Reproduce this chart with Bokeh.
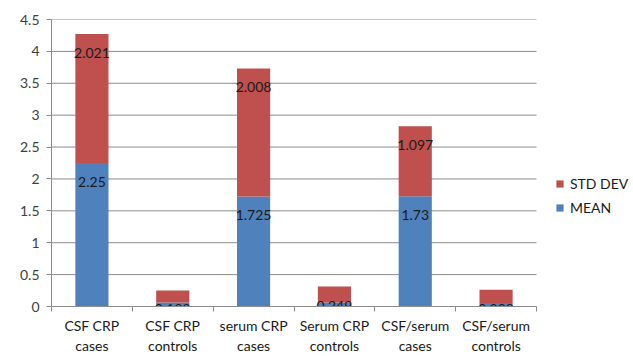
from bokeh.plotting import figure
from bokeh.models import (ColumnDataSource, Legend, LegendItem, LinearAxis,
                          FixedTicker, SingleIntervalTicker, Range1d)
from bokeh.embed import file_html
from bokeh.resources import INLINE
from bokeh.core.properties import value

categories = ["CSF CRP cases", "CSF CRP controls", "serum CRP cases",
              "Serum CRP controls", "CSF/serum cases", "CSF/serum controls"]
label_line1 = ["CSF CRP", "CSF CRP", "serum CRP", "Serum CRP", "CSF/serum", "CSF/serum"]
label_line2 = ["cases", "controls", "cases", "controls", "cases", "controls"]
mean = [2.25, 0.064, 1.725, 0.064, 1.73, 0.0535]
std_dev = [2.021, 0.188, 2.008, 0.249, 1.097, 0.208]
y_max = 4.5
y_step = 0.5

FONT = "Lato"
BLUE = "#4F81BD"
RED = "#C0504D"
GRID = "#8c8c8c"

n = len(categories)
centers = [i + 0.5 for i in range(n)]          # category slots on the x scale
bounds = list(range(n + 1))                     # slot boundaries (tick marks)
grid_y = [i * y_step for i in range(int(round(y_max / y_step)) + 1)]

src = ColumnDataSource(dict(
    x=centers,
    cat=categories,
    MEAN=mean,
    STD=std_dev,
    top=[m + s for m, s in zip(mean, std_dev)],
    mean_txt=[str(v) for v in mean],
    std_txt=[str(v) for v in std_dev],
))

p = figure(x_range=Range1d(0, 7.2), y_range=Range1d(0, y_max), width=633, height=356,
           output_backend="svg", toolbar_location=None, x_axis_location=None,
           min_border_left=51, min_border_right=0, min_border_top=19, min_border_bottom=50)
p.outline_line_color = None
p.background_fill_color = "white"
p.border_fill_color = "white"
p.xgrid.grid_line_color = None
p.ygrid.grid_line_color = None

# horizontal gridlines limited to the category area
p.segment(x0=0, x1=n, y0=grid_y, y1=grid_y, line_color=GRID, line_width=1)

r = p.vbar_stack(["MEAN", "STD"], x="x", width=0.41, color=[BLUE, RED], source=src,
                 line_color=None)

# value labels
p.text(x="x", y="MEAN", text="mean_txt", source=src, y_offset=19,
       text_align="center", text_baseline="middle", text_font=value(FONT),
       text_font_size="14px", text_color="#1a1a1a")
p.text(x="x", y="top", text="std_txt", source=src, y_offset=19,
       text_align="center", text_baseline="middle", text_font=value(FONT),
       text_font_size="14px", text_color="#1a1a1a")

# y axis
ya = p.yaxis[0]
ya.ticker = SingleIntervalTicker(interval=y_step)
ya.major_label_overrides = {0: "0", 1: "1", 2: "2", 3: "3", 4: "4"}
ya.axis_line_color = GRID
ya.major_tick_line_color = GRID
ya.major_tick_out = 5
ya.major_tick_in = 0
ya.minor_tick_line_color = None
ya.major_label_text_font = FONT
ya.major_label_text_font_size = "14px"
ya.major_label_text_color = "#404040"
ya.major_label_standoff = 7

# x axis line with tick marks at slot boundaries
ta = LinearAxis(ticker=FixedTicker(ticks=bounds), bounds=(0, n))
ta.axis_line_color = GRID
ta.major_tick_line_color = GRID
ta.major_tick_out = 5
ta.major_tick_in = 0
ta.minor_tick_line_color = None
ta.major_label_text_font_size = "1px"
ta.major_label_text_color = None
ta.major_label_standoff = 0
p.add_layout(ta, "below")

# two lines of category labels
for lines, standoff in ((label_line1, 5), (label_line2, 0)):
    la = LinearAxis(ticker=FixedTicker(ticks=centers))
    la.axis_line_color = None
    la.major_tick_line_color = None
    la.minor_tick_line_color = None
    la.major_tick_out = 0
    la.major_tick_in = 0
    la.major_label_overrides = dict(zip(centers, lines))
    la.major_label_text_font = FONT
    la.major_label_text_font_size = "14px"
    la.major_label_text_color = "#1a1a1a"
    la.major_label_standoff = standoff
    p.add_layout(la, "below")

legend = Legend(items=[LegendItem(label="STD DEV", renderers=[r[1]]),
                       LegendItem(label="MEAN", renderers=[r[0]])],
                location=(504, 89), orientation="vertical")
legend.border_line_color = None
legend.background_fill_alpha = 0
legend.padding = 0
legend.margin = 0
legend.spacing = 4
legend.glyph_width = 9
legend.glyph_height = 9
legend.label_height = 20
legend.label_standoff = 6
legend.label_text_font = FONT
legend.label_text_font_size = "14px"
legend.label_text_color = "#1a1a1a"
p.add_layout(legend, "center")

open("out.html", "w").write(file_html(p, INLINE))
